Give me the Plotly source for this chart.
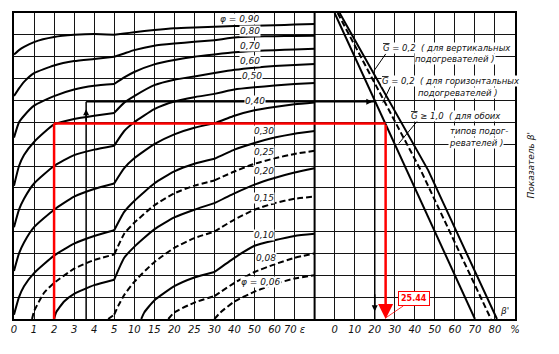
import numpy as np
import plotly.graph_objects as go

# ---------------- data ----------------
eps_ticks = [0, 1, 2, 3, 4, 5, 10, 15, 20, 25, 30, 40, 50, 60, 70, 80]
eps_labels = ["0", "1", "2", "3", "4", "5", "10", "15", "20", "25", "30", "40", "50", "60", "70 ε", ""]
pct_ticks = [0, 10, 20, 30, 40, 50, 60, 70, 80, 90]
pct_labels = ["0", "10", "20", "30", "40", "50", "60", "70", "80", "%"]

eps_full = [0, 0.25, 0.5, 1, 2, 3, 4, 5, 7.5, 10, 15, 20, 25, 30, 40, 50, 60, 70, 80]

phi_090 = [12.1, 12.3, 12.45, 12.67, 12.9, 13.0, 13.04, 13.0, 13.06, 13.12, 13.22, 13.3, 13.34, 13.37, 13.4, 13.42, 13.44, 13.47, 13.5]
phi_080 = [10.2, 10.55, 10.85, 11.25, 11.6, 11.8, 11.9, 12.0, 12.15, 12.3, 12.5, 12.6, 12.68, 12.75, 12.88, 12.92, 12.94, 12.95, 12.96]
phi_070 = [8.3, 9.0, 9.3, 9.76, 10.2, 10.5, 10.67, 10.75, 11.05, 11.3, 11.65, 11.85, 12.0, 12.1, 12.2, 12.26, 12.3, 12.33, 12.36]
phi_060 = [6.1, 7.0, 7.5, 8.1, 8.9, 9.15, 9.3, 9.43, 9.9, 10.2, 10.7, 10.95, 11.1, 11.25, 11.4, 11.5, 11.57, 11.62, 11.67]
phi_050 = [4.2, 5.0, 5.5, 6.2, 7.0, 7.5, 7.75, 7.93, 8.6, 9.0, 9.6, 9.95, 10.15, 10.3, 10.5, 10.6, 10.68, 10.75, 10.8]
phi_040 = [2.2, 3.0, 3.5, 4.2, 5.0, 5.6, 5.95, 6.2, 6.9, 7.35, 8.0, 8.45, 8.75, 8.95, 9.3, 9.55, 9.7, 9.82, 9.9]
phi_030 = [0.2, 1.0, 1.5, 2.1, 2.9, 3.45, 3.8, 4.06, 4.9, 5.4, 6.2, 6.75, 7.1, 7.33, 7.75, 8.05, 8.3, 8.48, 8.6]

eps_025 = [0.9, 1, 1.5, 2, 3, 4, 5, 7.5, 10, 15, 20, 25, 30, 40, 50, 60, 70, 80]
phi_025 = [0, 0.35, 1.2, 1.65, 2.3, 2.7, 2.95, 3.9, 4.4, 5.2, 5.75, 6.1, 6.34, 6.75, 7.1, 7.35, 7.55, 7.7]
eps_020 = [2, 2.1, 2.5, 3, 4, 5, 7.5, 10, 15, 20, 25, 30, 40, 50, 60, 70, 80]
phi_020 = [0, 0.3, 0.8, 1.15, 1.55, 1.8, 2.8, 3.3, 4.1, 4.65, 5.0, 5.3, 5.75, 6.15, 6.45, 6.7, 6.9]
eps_015 = [4.7, 5, 6, 7.5, 10, 15, 20, 25, 30, 40, 50, 60, 70, 80]
phi_015 = [0, 0.2, 0.6, 1.1, 1.7, 2.6, 3.25, 3.7, 4.0, 4.55, 5.0, 5.3, 5.5, 5.6]
eps_010 = [11.75, 12.5, 15, 20, 25, 30, 40, 50, 60, 70, 80]
phi_010 = [0, 0.3, 0.85, 1.5, 1.9, 2.15, 2.8, 3.35, 3.6, 3.8, 3.9]
eps_008 = [18.5, 20, 25, 30, 40, 50, 60, 70, 80]
phi_008 = [0, 0.3, 0.75, 1.05, 1.65, 2.15, 2.5, 2.8, 3.0]
eps_006 = [30, 33, 40, 50, 60, 70, 80]
phi_006 = [0, 0.3, 0.8, 1.25, 1.6, 1.85, 2.0]

# right panel lines (percent, beta')
g_both_pct = [0, 70]
g_both_beta = [14, 0]
g_horiz_pct = [1.5, 43, 78]
g_horiz_beta = [14, 6.8, 0]
g_vert_pct = [2.5, 46.7, 81]
g_vert_beta = [14, 6.8, 0]

# example paths
red_eps, red_beta, red_pct = 2, 8.94, 25.44
blk_eps, blk_beta, blk_pct = 3.6, 9.94, 20

# ---------------- scales ----------------
def ex(e):
    return np.interp(e, eps_ticks, np.arange(len(eps_ticks)))

def px(p):
    return 16 + np.asarray(p, dtype=float) / 10.0

def sections(e, b):
    """split a curve at the scale breaks eps=5 and eps=30 so each piece is smoothed separately"""
    e = np.asarray(e, float); b = np.asarray(b, float)
    xs, ys = [], []
    for lo, hi in [(0, 5), (5, 30), (30, 80)]:
        m = (e >= lo) & (e <= hi)
        if m.sum() >= 2:
            xs += list(ex(e[m])) + [None]
            ys += list(b[m]) + [None]
    return xs, ys

fig = go.Figure()
curves = [
    (eps_full, phi_090, "solid"), (eps_full, phi_080, "solid"), (eps_full, phi_070, "solid"),
    (eps_full, phi_060, "solid"), (eps_full, phi_050, "solid"), (eps_full, phi_040, "solid"),
    (eps_full, phi_030, "solid"), (eps_025, phi_025, "6px,3px"), (eps_020, phi_020, "solid"),
    (eps_015, phi_015, "6px,3px"), (eps_010, phi_010, "solid"), (eps_008, phi_008, "6px,3px"),
    (eps_006, phi_006, "6px,3px"),
]
for e, b, d in curves:
    xs, ys = sections(e, b)
    fig.add_trace(go.Scatter(x=xs, y=ys, mode="lines", line=dict(color="black", width=2, dash=d, shape="spline", smoothing=0.5),
                             hoverinfo="skip", showlegend=False))

for p, b, d in [(g_both_pct, g_both_beta, "solid"), (g_horiz_pct, g_horiz_beta, "6px,3px"), (g_vert_pct, g_vert_beta, "solid")]:
    fig.add_trace(go.Scatter(x=px(p), y=b, mode="lines", line=dict(color="black", width=2, dash=d),
                             hoverinfo="skip", showlegend=False))

GRID = "#141414"
shapes = []
# divider between panels
shapes.append(dict(type="line", x0=15, x1=15, y0=0, y1=14, xref="x", yref="y", line=dict(color="black", width=2)))
# black example path
bx = float(ex(blk_eps))
shapes.append(dict(type="line", x0=bx, x1=bx, y0=0, y1=blk_beta, line=dict(color="black", width=1.5)))
shapes.append(dict(type="line", x0=bx, x1=float(px(blk_pct)), y0=blk_beta, y1=blk_beta, line=dict(color="black", width=1.4)))
shapes.append(dict(type="line", x0=float(px(blk_pct)), x1=float(px(blk_pct)), y0=blk_beta, y1=0, line=dict(color="black", width=1.5)))
# red example path
rx = float(ex(red_eps))
shapes.append(dict(type="line", x0=rx, x1=rx, y0=0, y1=red_beta, line=dict(color="red", width=2.5)))
shapes.append(dict(type="line", x0=rx, x1=float(px(red_pct)), y0=red_beta, y1=red_beta, line=dict(color="red", width=2.5)))
# leaders for G labels
for (x0, y0, x1, y1) in [(18.55, 12.13, 17.96, 11.35), (18.8, 10.67, 18.4, 9.9), (20.14, 9.07, 19.2, 8.03)]:
    shapes.append(dict(type="line", x0=x0, x1=x1, y0=y0, y1=y1, line=dict(color="black", width=1)))

ann = []
TF = dict(family="DejaVu Sans", size=9, color="#111", style="italic")
for txt, x, y in [("φ = 0,90", 11.26, 13.73), ("0,80", 11.76, 13.18), ("0,70", 11.76, 12.49), ("0,60", 11.8, 11.81),
                  ("0,50", 11.9, 11.13), ("0,40", 12.05, 9.99), ("0,30", 12.45, 8.62), ("0,25", 12.45, 7.62),
                  ("0,20", 12.45, 6.79), ("0,15", 12.45, 5.52), ("0,10", 12.45, 3.83), ("0,08", 12.55, 2.78),
                  ("φ = 0,06", 12.35, 1.69)]:
    ann.append(dict(x=x, y=y, text=txt, showarrow=False, font=TF, bgcolor="white", borderpad=0))
GF = dict(family="DejaVu Sans", size=8.5, color="#111", style="italic")
GBAR = "<span style='text-decoration:overline'>G</span>"
for txt, x, y in [(GBAR + " = 0,2  ( для вертикальных", 21.63, 12.4), ("подогревателей )", 22.02, 11.9),
                  (GBAR + " = 0,2  ( для горизонтальных", 21.83, 10.9), ("подогревателей )", 22.17, 10.35),
                  (GBAR + " ≥ 1,0  ( для обоих", 22.07, 9.3), ("типов подог-", 23.2, 8.62), ("ревателей )", 23.07, 8.07)]:
    ann.append(dict(x=x, y=y, text=txt, showarrow=False, font=GF, bgcolor="white", borderpad=0))
ann.append(dict(x=24.5, y=0.35, text="β'", showarrow=False, font=dict(family="DejaVu Sans", size=9, color="#111", style="italic"),
                bgcolor="white", borderpad=0))
ann.append(dict(xref="paper", yref="paper", x=1.045, y=0.5, text="Показатель β'", textangle=-90, showarrow=False,
                font=dict(family="DejaVu Sans", size=9, color="#111", style="italic")))
# arrows on black path
ann.append(dict(x=bx, y=9.6, ax=bx, ay=9.0, axref="x", ayref="y", text="", showarrow=True, arrowhead=2, arrowsize=0.8, arrowwidth=1.5, arrowcolor="black"))
ann.append(dict(x=float(px(18.8)), y=blk_beta, ax=float(px(17)), ay=blk_beta, axref="x", ayref="y", text="", showarrow=True, arrowhead=2, arrowsize=0.8, arrowwidth=1.5, arrowcolor="black"))
ann.append(dict(x=float(px(blk_pct)), y=0.35, ax=float(px(blk_pct)), ay=1.2, axref="x", ayref="y", text="", showarrow=True, arrowhead=2, arrowsize=0.8, arrowwidth=1.5, arrowcolor="black"))
# red arrow and value box
ann.append(dict(x=float(px(red_pct)), y=0, ax=float(px(red_pct)), ay=red_beta, axref="x", ayref="y", text="", showarrow=True,
                arrowhead=2, arrowsize=1.2, arrowwidth=2.5, arrowcolor="red"))
ann.append(dict(x=float(px(red_pct)), y=0.05, ax=28, ay=-19, text="<b>25.44</b>", showarrow=True, arrowhead=0, arrowwidth=0.8,
                arrowcolor="red", font=dict(family="DejaVu Sans", size=8, color="red"), bgcolor="white", bordercolor="red",
                borderwidth=1, borderpad=2))

tickvals = list(range(0, 26))
ticktext = eps_labels + pct_labels
fig.update_layout(
    width=559, height=354, margin=dict(l=11, r=44, t=12, b=35),
    paper_bgcolor="white", plot_bgcolor="white", showlegend=False,
    shapes=shapes, annotations=ann,
    xaxis=dict(range=[0, 25], tickvals=tickvals, ticktext=ticktext, showgrid=True, gridcolor=GRID, gridwidth=1.3,
               zeroline=False, showline=True, linecolor="black", linewidth=2, mirror=True, ticks="",
               tickfont=dict(family="DejaVu Sans", size=10, color="#111", style="italic")),
    yaxis=dict(range=[0, 14], dtick=1, showgrid=True, gridcolor=GRID, gridwidth=1.3, zeroline=False, showticklabels=False,
               showline=True, linecolor="black", linewidth=2, mirror=True, ticks=""),
)
fig.write_html("out.html")
